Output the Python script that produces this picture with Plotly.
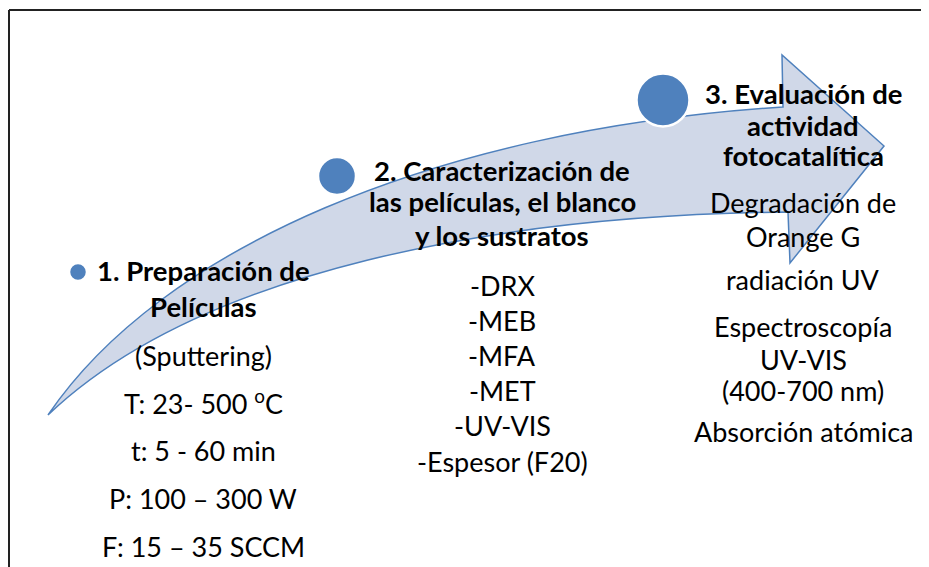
import plotly.graph_objects as go

# step headings (bold) and their detail lines
step1_title = ["1. Preparación de", "Películas"]
step1_items = ["(Sputtering)", "T: 23- 500 <sup>o</sup>C", "t: 5 - 60 min",
               "P: 100 – 300 W", "F: 15 – 35 SCCM"]
step2_title = ["2. Caracterización de", "las películas, el blanco", "y los sustratos"]
step2_items = ["-DRX", "-MEB", "-MFA", "-MET", "-UV-VIS", "-Espesor (F20)"]
step3_title = ["3. Evaluación de", "actividad", "fotocatalítica"]
step3_items = ["Degradación de", "Orange G", "radiación UV", "Espectroscopía",
               "UV-VIS", "(400-700 nm)", "Absorción atómica"]

# layout of each column (pixel space, y downwards)
col_x = [203, 502, 803]
step1_title_y = [270, 306]
step1_items_y = [355, 402, 450, 498, 546]
step2_title_y = [170, 201, 235]
step2_items_y = [285, 320, 355, 390, 425, 461]
step3_title_y = [93, 125, 155]
step3_items_y = [202, 236, 279, 326, 359, 390, 431]

dot_x = [78, 337, 663]
dot_y = [272, 176, 100]
dot_d = [18, 38, 53]

W, H = 929, 567
OFF = 8  # page body margin that the html adds around the figure
BLUE = "#4F81BD"
FONT = "Lato"

fig = go.Figure()

# curved arrow body + head
arrow_path = ("M 48,415 C 160,250 430,130 783,107 "
              "L 782,55 L 884,146 L 790,263 L 788,212 "
              "C 500,215 200,270 48,415 Z")
fig.add_shape(type="path", path=arrow_path, xref="x", yref="y",
              fillcolor="#D0D8E8", line=dict(color=BLUE, width=1.5), layer="below")

fig.add_trace(go.Scatter(
    x=dot_x, y=dot_y, mode="markers",
    marker=dict(size=dot_d, color=BLUE, opacity=1, line=dict(color="white", width=2.5)),
    hoverinfo="skip", showlegend=False))

# frame (only top and left edges are visible)
fig.add_shape(type="line", x0=9, y0=10, x1=W + OFF, y1=10, line=dict(color="#222", width=2))
fig.add_shape(type="line", x0=9, y0=10, x1=9, y1=H + OFF, line=dict(color="#222", width=2))


def add_lines(cx, lines, ys, bold):
    for txt, y in zip(lines, ys):
        fig.add_annotation(x=cx, y=y, text=f"<b>{txt}</b>" if bold else txt,
                           showarrow=False, xanchor="center", yanchor="middle",
                           font=dict(family=FONT, size=27.5 if bold else 27, color="black"))


add_lines(col_x[0], step1_title, step1_title_y, True)
add_lines(col_x[0], step1_items, step1_items_y, False)
add_lines(col_x[1], step2_title, step2_title_y, True)
add_lines(col_x[1], step2_items, step2_items_y, False)
add_lines(col_x[2], step3_title, step3_title_y, True)
add_lines(col_x[2], step3_items, step3_items_y, False)

fig.update_layout(
    width=W, height=H,
    margin=dict(l=0, r=0, t=0, b=0),
    plot_bgcolor="white", paper_bgcolor="white",
    xaxis=dict(range=[OFF, W + OFF], visible=False, fixedrange=True),
    yaxis=dict(range=[H + OFF, OFF], visible=False, fixedrange=True),
)

fig.write_html("out.html")
